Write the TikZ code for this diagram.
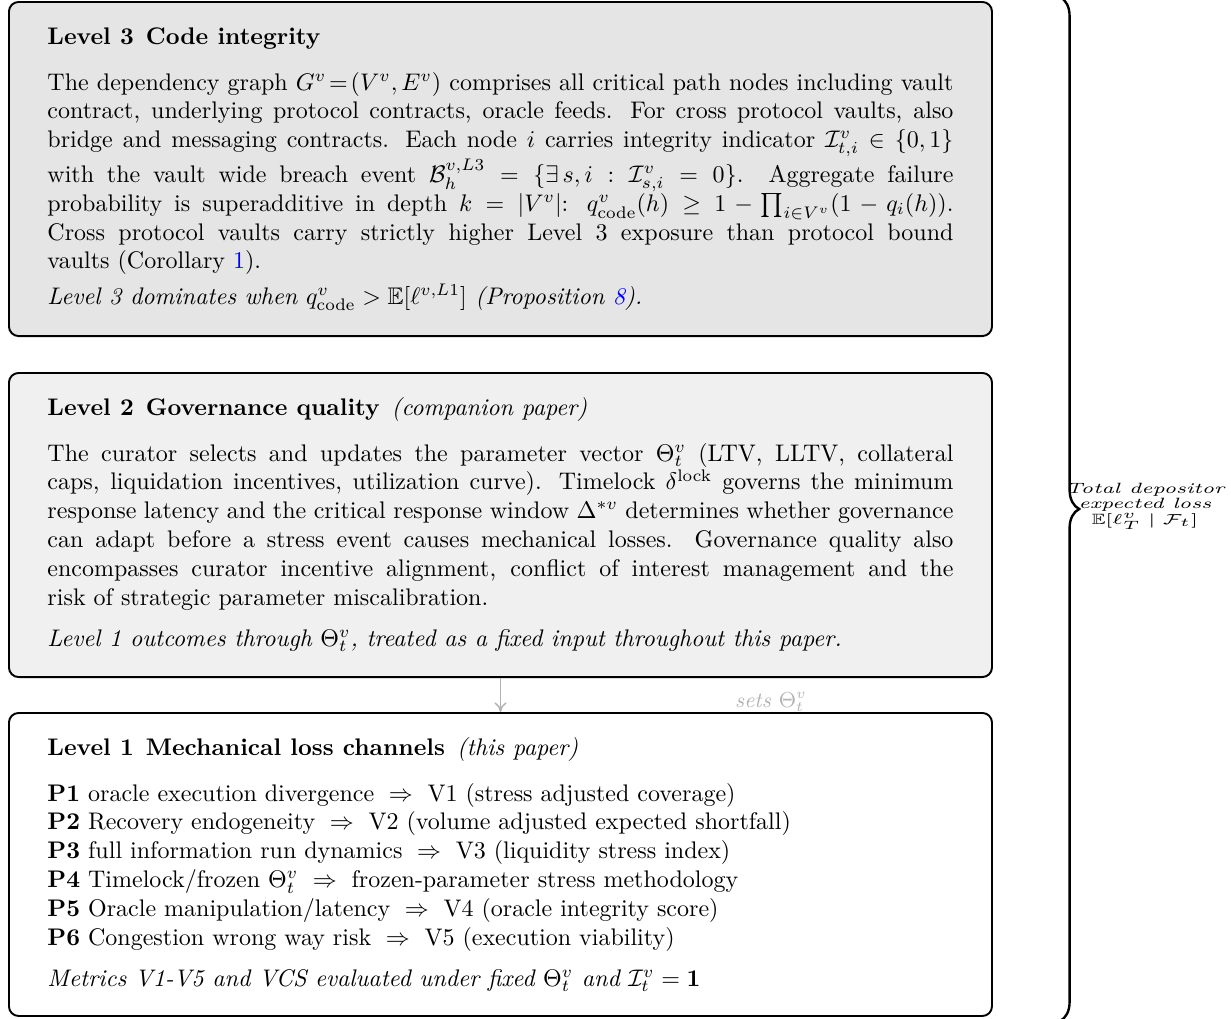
\documentclass[tikz,border=0pt]{standalone}
\usepackage{amsmath,amssymb,graphicx}
\usetikzlibrary{decorations.pathreplacing,arrows.meta}
\newcommand{\hsep}{\enspace}
\begin{document}
\begin{tikzpicture}[x=0.41667pt,y=-0.41667pt,
  box/.style={draw=black, thick, rounded corners=4pt, inner sep=0pt, anchor=north west, minimum width=409.6pt},
  head/.style={inner sep=0pt, anchor=base west},
  txt/.style={inner sep=0pt, anchor=base west, text width=377.5pt, align=justify},
  conn/.style={draw=black!30, -{To[length=4pt,width=5pt]}, line width=0.6pt},
  sets/.style={text=black!30, font=\small\itshape, inner sep=0pt},
]
\useasboundingbox (0,0) rectangle (1231,1018);
% boxes
\node[box, fill=black!10, minimum height=139.2pt] (b3) at (8,1) {};
\node[box, fill=black!6, minimum height=126.7pt] (b2) at (8,372) {};
\node[box, fill=white, minimum height=126.25pt] (b1) at (8,712) {};
% level 3
\node[head] (h3) at (47,44) {\textbf{Level 3\hsep Code integrity}};
\node[txt] (p3) at (47,90) {\lineskiplimit=-\maxdimen\relax The dependency graph $G^v\!=\!(V^v,E^v)$ comprises all critical path nodes including vault\linebreak contract, underlying protocol contracts, oracle feeds. For cross protocol vaults, also\linebreak bridge and messaging contracts. Each node $i$ carries integrity indicator $\mathcal{I}^v_{t,i}\in\{0,1\}$\linebreak with the vault wide breach event $\mathcal{B}^{v,L3}_h=\{\exists\,s,i:\mathcal{I}^v_{s,i}=0\}$. Aggregate failure\linebreak probability is superadditive in depth $k=|V^v|$: $q^v_{\mathrm{code}}(h)\ge 1-\prod_{i\in V^v}(1-q_i(h))$.\linebreak Cross protocol vaults carry strictly higher Level 3 exposure than protocol bound\linebreak vaults (Corollary \textcolor{blue}{1}).};
\node[txt] (i3) at (47,304) {\itshape Level 3 dominates when $q^v_{\mathrm{code}}>\mathbb{E}[\ell^{v,L1}]$ (Proposition \textcolor{blue}{8}).};
% level 2
\node[head] (h2) at (47,415) {\textbf{Level 2\hsep Governance quality}\hsep\textit{(companion paper)}};
\node[txt] (p2) at (47,461) {\lineskiplimit=-\maxdimen\relax The curator selects and updates the parameter vector $\Theta^v_t$ (LTV, LLTV, collateral\linebreak caps, liquidation incentives, utilization curve). Timelock $\delta^{\mathrm{lock}}$ governs the minimum\linebreak response latency and the critical response window $\Delta^{*v}$ determines whether governance\linebreak can adapt before a stress event causes mechanical losses. Governance quality also\linebreak encompasses curator incentive alignment, conflict of interest management and the\linebreak risk of strategic parameter miscalibration.};
\node[txt] (i2) at (47,646) {\itshape Level 1 outcomes through $\Theta^v_t$, treated as a fixed input throughout this paper.};
% level 1
\node[head] (h1) at (47,755) {\textbf{Level 1\hsep Mechanical loss channels}\hsep\textit{(this paper)}};
\node[txt, align=left] (p1) at (47,801) {\textbf{P1} oracle execution divergence $\;\Rightarrow\;$ V1 (stress adjusted coverage)\\
\textbf{P2} Recovery endogeneity $\;\Rightarrow\;$ V2 (volume adjusted expected shortfall)\\
\textbf{P3} full information run dynamics $\;\Rightarrow\;$ V3 (liquidity stress index)\\
\textbf{P4} Timelock/frozen $\Theta^v_t$ $\;\Rightarrow\;$ frozen-parameter stress methodology\\
\textbf{P5} Oracle manipulation/latency $\;\Rightarrow\;$ V4 (oracle integrity score)\\
\textbf{P6} Congestion wrong way risk $\;\Rightarrow\;$ V5 (execution viability)};
\node[txt] (i1) at (47,986) {\itshape Metrics V1-V5 and VCS evaluated under fixed $\Theta^v_t$ and $\mathcal{I}^v_t=\mathbf{1}$};
% connector
\draw[conn] (b2) -- (b1);
\node[sets] (st) at (771,702) {sets $\Theta^v_t$};
% brace
\coordinate (bt) at (1060,-3);
\coordinate (bb) at (1060,1021);
\draw[decorate, decoration={brace, amplitude=8pt}, line width=1pt] (bt) -- (bb);
\node[inner sep=0pt] (lbl) at (1145,506) {\fontsize{6.2}{6.4}\selectfont\itshape\scalebox{1.38}[1]{\begin{tabular}{@{}c@{}}Total depositor\\ expected loss\\ $\mathbb{E}[\ell^v_T\mid\mathcal{F}_t]$\end{tabular}}};
\end{tikzpicture}
\end{document}
